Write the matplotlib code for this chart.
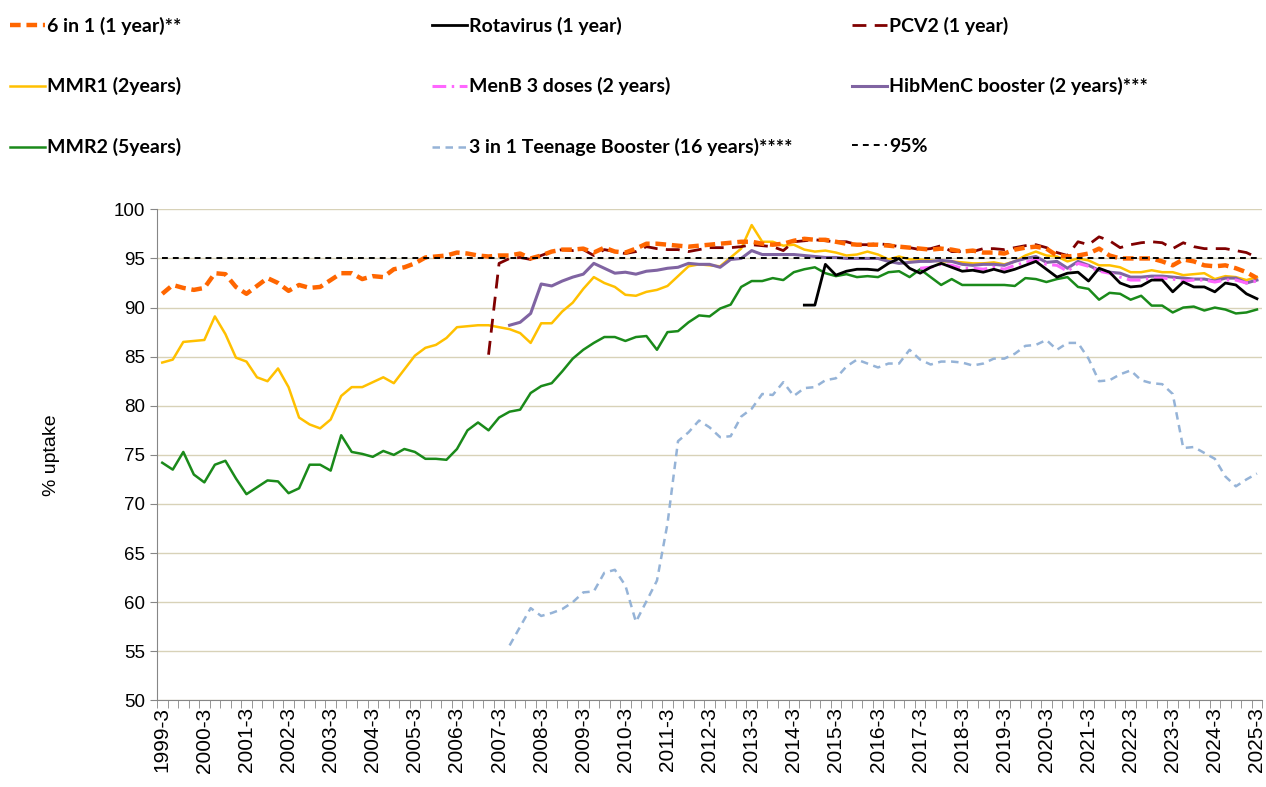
import numpy as np
import matplotlib
matplotlib.use("Agg")
import matplotlib.pyplot as plt
from matplotlib.lines import Line2D

nan = np.nan

# quarterly labels 1999-3 .. 2025-3
years = list(range(1999, 2026))
quarters = [f"{y}-{m}" for y in years for m in (3, 6, 9, 12)][:105]
tick_labels = [f"{y}-3" for y in years]

six_in_one = [91.4, 92.3, 92.0, 91.8, 92.0, 93.5, 93.4, 92.1, 91.4, 92.2, 93.0, 92.5, 91.7, 92.3, 92.0,
              92.1, 92.8, 93.5, 93.5, 92.9, 93.2, 93.1, 93.9, 94.1, 94.5, 95.1, 95.2, 95.3, 95.6, 95.5,
              95.3, 95.2, 95.3, 95.3, 95.5, 95.0, 95.3, 95.7, 95.9, 95.9, 96.0, 95.6, 96.1, 95.7, 95.6,
              96.0, 96.5, 96.5, 96.4, 96.3, 96.2, 96.3, 96.4, 96.5, 96.6, 96.7, 96.7, 96.5, 96.4, 96.5,
              96.8, 97.0, 96.9, 96.9, 96.7, 96.5, 96.4, 96.4, 96.4, 96.3, 96.2, 96.1, 96.0, 95.9, 96.0,
              95.9, 95.7, 95.8, 95.6, 95.6, 95.5, 95.9, 96.1, 96.2, 96.0, 95.3, 95.2, 95.3, 95.5, 96.0,
              95.3, 95.0, 95.0, 95.0, 95.0, 94.7, 94.3, 94.9, 94.7, 94.3, 94.2, 94.3, 94.0, 93.6, 93.0]

rotavirus = [nan] * 61 + [90.25, 90.25, 94.4, 93.3, 93.7, 93.9, 93.9, 93.8, 94.5, 95.0, 94.0, 93.5,
                          94.1, 94.5, 94.1, 93.7, 93.8, 93.6, 93.9, 93.6, 93.9, 94.3, 94.7, 93.9, 93.1,
                          93.5, 93.6, 92.7, 94.0, 93.6, 92.5, 92.1, 92.2, 92.8, 92.8, 91.6, 92.6, 92.1,
                          92.1, 91.6, 92.5, 92.3, 91.4, 90.9]

pcv2 = [nan] * 31 + [85.2, 94.5, 95.0, 95.1, 94.9, 95.3, 95.7, 95.9, 95.8, 95.9, 95.3, 95.9, 95.7, 95.5,
                     95.7, 96.2, 96.0, 95.9, 95.9, 95.7, 95.9, 96.1, 96.1, 96.1, 96.2, 96.4, 96.3, 96.2,
                     95.8, 96.7, 96.8, 96.9, 96.8, 96.7, 96.7, 96.4, 96.4, 96.5, 96.4, 96.2, 96.1, 95.9,
                     96.0, 96.3, 95.7, 95.7, 95.7, 96.0, 96.0, 95.9, 96.1, 96.3, 96.4, 96.1, 95.6, 95.3,
                     96.7, 96.4, 97.2, 96.8, 96.1, 96.4, 96.6, 96.7, 96.6, 96.0, 96.6, 96.2, 96.0, 96.0,
                     96.0, 95.8, 95.6, 95.1]

mmr1 = [84.4, 84.7, 86.5, 86.6, 86.7, 89.1, 87.3, 84.9, 84.5, 82.9, 82.5, 83.8, 81.9, 78.8, 78.1,
        77.7, 78.6, 81.0, 81.9, 81.9, 82.4, 82.9, 82.3, 83.7, 85.1, 85.9, 86.2, 86.9, 88.0, 88.1,
        88.2, 88.2, 88.0, 87.8, 87.4, 86.4, 88.4, 88.4, 89.6, 90.5, 91.9, 93.1, 92.5, 92.1, 91.3,
        91.2, 91.6, 91.8, 92.2, 93.2, 94.2, 94.4, 94.3, 94.2, 95.1, 96.0, 98.4, 96.7, 96.7, 96.3,
        96.4, 95.9, 95.7, 95.8, 95.6, 95.3, 95.4, 95.7, 95.4, 94.9, 95.2, 94.9, 94.9, 94.8, 94.7,
        94.7, 94.6, 94.5, 94.5, 94.6, 94.4, 94.7, 95.3, 95.7, 95.3, 95.2, 94.7, 95.0, 94.8, 94.3,
        94.3, 94.1, 93.6, 93.6, 93.8, 93.6, 93.6, 93.3, 93.4, 93.5, 92.9, 93.2, 93.1, 92.8, 93.1]

menb = [nan] * 72 + [94.0, 94.1, 94.4, 94.3, 94.0, 94.0, 93.9, 94.1, 93.9, 94.3, 94.6, 94.9, 94.4,
                     94.3, 93.7, 94.5, 94.2, 93.7, 93.5, 93.1, 92.8, 92.8, 93.0, 93.0, 92.9, 92.7,
                     92.8, 92.8, 92.6, 92.8, 92.8, 92.5, 92.7]

hibmenc = [nan] * 33 + [88.2, 88.5, 89.4, 92.4, 92.2, 92.7, 93.1, 93.4, 94.5, 94.0, 93.5, 93.6, 93.4,
                        93.7, 93.8, 94.0, 94.1, 94.5, 94.4, 94.4, 94.1, 94.9, 95.0, 95.8, 95.4, 95.4,
                        95.4, 95.4, 95.3, 95.2, 95.1, 95.1, 95.0, 95.0, 95.0, 95.0, 94.7, 94.5, 94.6,
                        94.7, 94.7, 94.8, 94.7, 94.4, 94.3, 94.4, 94.4, 94.3, 94.7, 95.0, 95.2, 94.6,
                        94.7, 94.0, 94.7, 94.3, 93.8, 93.6, 93.5, 93.1, 93.1, 93.2, 93.2, 93.1, 93.0,
                        92.9, 92.9, 92.7, 93.0, 93.0, 92.5, 92.8]

mmr2 = [74.2, 73.5, 75.3, 73.0, 72.2, 74.0, 74.4, 72.6, 71.0, 71.7, 72.4, 72.3, 71.1, 71.6, 74.0,
        74.0, 73.4, 77.0, 75.3, 75.1, 74.8, 75.4, 75.0, 75.6, 75.3, 74.6, 74.6, 74.5, 75.6, 77.5,
        78.3, 77.5, 78.8, 79.4, 79.6, 81.3, 82.0, 82.3, 83.5, 84.8, 85.7, 86.4, 87.0, 87.0, 86.6,
        87.0, 87.1, 85.7, 87.5, 87.6, 88.5, 89.2, 89.1, 89.9, 90.3, 92.1, 92.7, 92.7, 93.0, 92.8,
        93.6, 93.9, 94.1, 93.5, 93.2, 93.4, 93.1, 93.2, 93.1, 93.6, 93.7, 93.1, 93.9, 93.1, 92.3,
        92.9, 92.3, 92.3, 92.3, 92.3, 92.3, 92.2, 93.0, 92.9, 92.6, 92.9, 93.1, 92.1, 91.9, 90.8,
        91.5, 91.4, 90.8, 91.2, 90.2, 90.2, 89.5, 90.0, 90.1, 89.7, 90.0, 89.8, 89.4, 89.5, 89.8]

teen = [nan] * 33 + [55.6, 57.5, 59.4, 58.6, 58.9, 59.3, 60.0, 61.0, 61.1, 63.0, 63.3, 61.7, 58.0,
                     60.1, 62.2, 68.0, 76.4, 77.3, 78.5, 77.8, 76.8, 76.9, 78.9, 79.7, 81.2, 81.1,
                     82.4, 81.0, 81.8, 81.9, 82.6, 82.8, 84.0, 84.7, 84.3, 83.9, 84.3, 84.3, 85.7,
                     84.7, 84.2, 84.5, 84.5, 84.4, 84.1, 84.3, 84.8, 84.8, 85.3, 86.1, 86.2, 86.7,
                     85.7, 86.4, 86.4, 84.8, 82.5, 82.6, 83.2, 83.6, 82.6, 82.3, 82.2, 81.2, 75.7,
                     75.8, 75.2, 74.6, 72.8, 71.8, 72.5, 73.1]

target = [95] * len(quarters)

x = np.arange(len(quarters))

fig = plt.figure(figsize=(12.66, 7.87), dpi=100)
ax = fig.add_axes([0.124, 0.110, 0.873, 0.624])

styles = {
    "mmr2": dict(color="#1a8a1a", lw=1.8),
    "teen": dict(color="#95b3d7", lw=1.8, dashes=(3.0, 2.2)),
    "mmr1": dict(color="#ffc000", lw=1.8),
    "hib": dict(color="#8064a2", lw=2.2),
    "menb": dict(color="#ff66ff", lw=2.2, dashes=(4.5, 1.8, 0.8, 1.8)),
    "rota": dict(color="#000000", lw=2.0),
    "pcv2": dict(color="#800000", lw=2.0, dashes=(5.0, 3.0)),
    "six": dict(color="#ff6600", lw=3.2, dashes=(2.4, 1.3)),
    "target": dict(color="#000000", lw=1.4, dashes=(3.0, 2.6)),
}

ax.plot(x, mmr2, **styles["mmr2"])
ax.plot(x, teen, **styles["teen"])
ax.plot(x, mmr1, **styles["mmr1"])
ax.plot(x, hibmenc, **styles["hib"])
ax.plot(x, menb, **styles["menb"])
ax.plot(x, rotavirus, **styles["rota"])
ax.plot(x, pcv2, **styles["pcv2"])
ax.plot(x, six_in_one, **styles["six"])
ax.plot(x, target, **styles["target"])

ax.set_xlim(-0.5, len(quarters) - 0.5)
ax.set_ylim(50, 100)
ax.set_yticks(np.arange(50, 101, 5))
ax.yaxis.grid(True, color="#d8d2b8", lw=1.0)
ax.set_axisbelow(True)

ax.set_xticks(x[::4])
ax.set_xticklabels(tick_labels, rotation=90, fontsize=15, family="Liberation Sans")
ax.set_xticks(np.arange(-0.5, len(quarters), 1), minor=True)
ax.tick_params(axis="x", which="major", length=0, pad=5)
ax.tick_params(axis="x", which="minor", length=6, color="#868686")
ax.tick_params(axis="y", length=5, color="#868686", labelsize=13.5)
for lab in ax.get_yticklabels():
    lab.set_family("Liberation Sans")

for s in ("top", "right"):
    ax.spines[s].set_visible(False)
for s in ("left", "bottom"):
    ax.spines[s].set_color("#868686")

ax.set_ylabel("% uptake", fontsize=14, family="Liberation Sans", labelpad=39)


def h(key):
    return Line2D([], [], **styles[key])


cols = [
    [(h("six"), "6 in 1 (1 year)**"), (h("mmr1"), "MMR1 (2years)"), (h("mmr2"), "MMR2 (5years)")],
    [(h("rota"), "Rotavirus (1 year)"), (h("menb"), "MenB 3 doses (2 years)"),
     (h("teen"), "3 in 1 Teenage Booster (16 years)****")],
    [(h("pcv2"), "PCV2 (1 year)"), (h("hib"), "HibMenC booster (2 years)***"), (h("target"), "95%")],
]
xs = [0.008, 0.341, 0.673]
for xa, col in zip(xs, cols):
    fig.legend([c[0] for c in col], [c[1] for c in col], loc="upper left",
               bbox_to_anchor=(xa, 0.979), frameon=False, borderpad=0, borderaxespad=0,
               handlelength=1.8, handletextpad=0.1, labelspacing=2.2,
               prop=dict(family="Lato", weight="bold", size=14))

fig.savefig("out.png", dpi=100)
